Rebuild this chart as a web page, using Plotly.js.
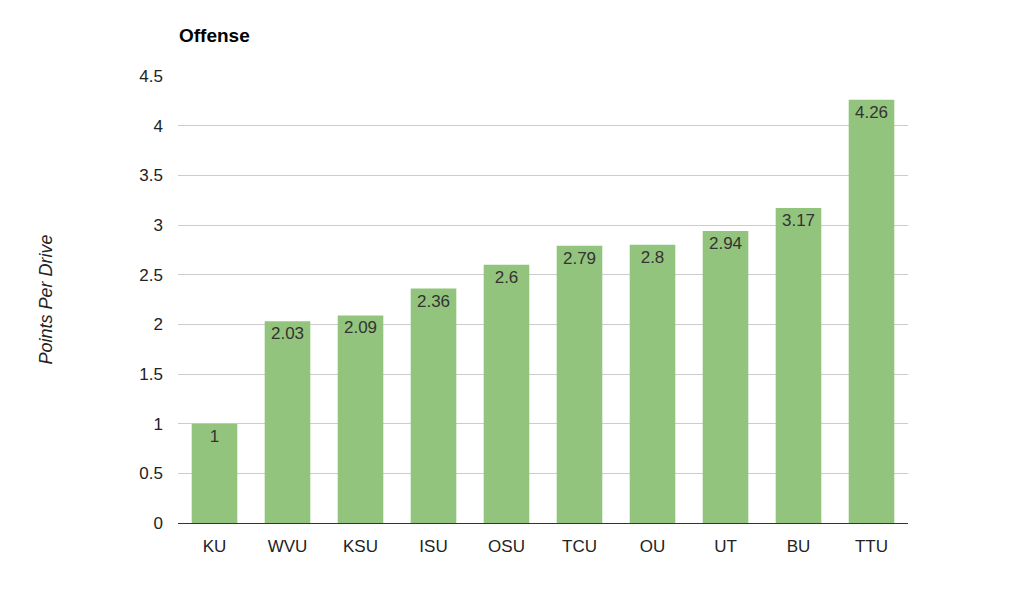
<!DOCTYPE html>
<html>
<head>
<meta charset="utf-8">
<script src="https://cdn.plot.ly/plotly-3.0.1.min.js"></script>
<style>html,body{margin:0;padding:0;background:#fff;}#chart{width:1025px;height:600px;}</style>
</head>
<body>
<div id="chart"></div>
<script>
const teams = ["KU","WVU","KSU","ISU","OSU","TCU","OU","UT","BU","TTU"];
const pointsPerDrive = [1, 2.03, 2.09, 2.36, 2.6, 2.79, 2.8, 2.94, 3.17, 4.26];
const valueLabels = ["1","2.03","2.09","2.36","2.6","2.79","2.8","2.94","3.17","4.26"];
const yTicks = [0,0.5,1,1.5,2,2.5,3,3.5,4,4.5];
const yTickText = ["0","0.5","1","1.5","2","2.5","3","3.5","4","4.5"];

const font = "Liberation Sans, Arial, Helvetica, sans-serif";
Plotly.newPlot("chart", [{
  type: "bar",
  x: teams,
  y: pointsPerDrive,
  text: valueLabels,
  textposition: "inside",
  insidetextanchor: "end",
  textangle: 0,
  constraintext: "none",
  textfont: {family: font, size: 17, color: "#333333"},
  marker: {color: "#93c47d"},
  hoverinfo: "x+y"
}], {
  width: 1025, height: 600,
  margin: {l: 178, r: 117, t: 76, b: 77},
  paper_bgcolor: "#ffffff", plot_bgcolor: "#ffffff",
  bargap: 0.375,
  title: {text: "<b>Offense</b>", x: 179/1025, xanchor: "left", y: 1 - 35/600, yanchor: "middle",
          font: {family: font, size: 19, color: "#000000"}},
  xaxis: {
    showgrid: false, showline: true, linecolor: "#333333", linewidth: 1,
    ticks: "", tickfont: {family: font, size: 17, color: "#222222"}, ticklabelstandoff: 8
  },
  yaxis: {
    range: [0, 4.5], tickvals: yTicks, ticktext: yTickText,
    showgrid: true, gridcolor: "#cccccc", gridwidth: 1, zeroline: false, showline: false,
    ticks: "", tickfont: {family: font, size: 17, color: "#222222"}, ticklabelstandoff: 14,
    title: {text: "<i>Points Per Drive</i>", standoff: 82, font: {family: font, size: 18, color: "#222222"}}
  },
  showlegend: false
}, {displayModeBar: false, staticPlot: true});
</script>
</body>
</html>
